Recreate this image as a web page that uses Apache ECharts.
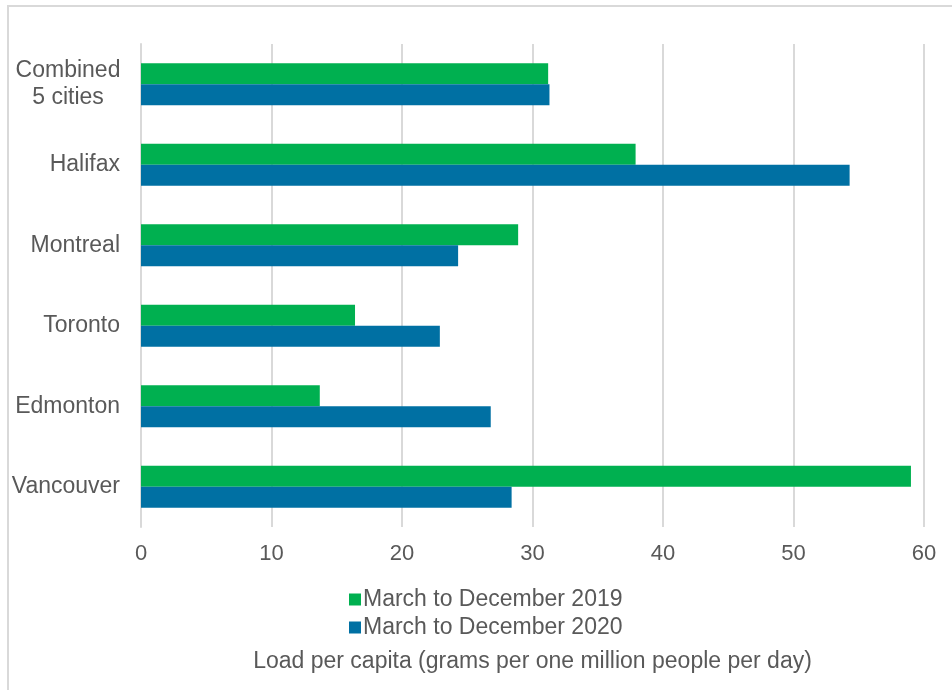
<!DOCTYPE html>
<html>
<head>
<meta charset="utf-8">
<script src="https://cdn.jsdelivr.net/npm/echarts@6/dist/echarts.min.js"></script>
<style>
  html, body { margin: 0; padding: 0; background: #fff; }
  #chart { width: 952px; height: 690px; }
</style>
</head>
<body>
<div id="chart"></div>
<script>
// categories, bottom to top (category axis starts at the bottom)
var cities = ['Vancouver', 'Edmonton', 'Toronto', 'Montreal', 'Halifax', 'Combined 5 cities'];
var load2019 = [59.0, 13.7, 16.4, 28.9, 37.9, 31.2];
var load2020 = [28.4, 26.8, 22.9, 24.3, 54.3, 31.3];
var seriesNames = ['March to December 2019', 'March to December 2020'];
var xTicks = [0, 60, 10]; // min, max, interval

var txt = '#595959';
var font = '"Liberation Sans", Arial, sans-serif';

var myChart = echarts.init(document.getElementById('chart'));
var option = {
    backgroundColor: '#fff',
    animation: false,
    textStyle: { fontFamily: font },
    graphic: [{
        type: 'rect',
        shape: { x: 8, y: 6, width: 980, height: 720 },
        style: { fill: 'none', stroke: '#d9d9d9', lineWidth: 2 },
        silent: true
    }],
    grid: { left: 141, right: 28, top: 44, bottom: 163 },
    legend: {
        data: seriesNames,
        orient: 'vertical',
        left: 344,
        top: 583,
        itemWidth: 12,
        itemHeight: 12,
        itemGap: 5,
        icon: 'rect',
        textStyle: { color: txt, fontSize: 23, fontFamily: font, padding: [0, 0, 0, -3] }
    },
    xAxis: {
        type: 'value',
        min: xTicks[0],
        max: xTicks[1],
        interval: xTicks[2],
        name: 'Load per capita (grams per one million people per day)',
        nameLocation: 'middle',
        nameGap: 123,
        nameTextStyle: { color: txt, fontSize: 23, fontFamily: font },
        axisLine: { show: false },
        axisTick: { show: false },
        axisLabel: { color: txt, fontSize: 22, margin: 16 },
        splitLine: { lineStyle: { color: '#d9d9d9', width: 2 } }
    },
    yAxis: {
        type: 'category',
        data: cities,
        axisLine: { show: true, lineStyle: { color: '#d9d9d9', width: 2 } },
        axisTick: { show: false },
        axisLabel: {
            color: txt,
            fontSize: 23,
            margin: 21,
            formatter: function (v) {
                if (v === 'Combined 5 cities') {
                    return '{c|Combined}\n{c|5 cities}';
                }
                return v;
            },
            rich: {
                c: { width: 104, align: 'center', fontSize: 23, color: txt, lineHeight: 27 }
            }
        }
    },
    series: [
        {
            name: seriesNames[0],
            type: 'bar',
            data: load2019,
            barWidth: 21,
            barGap: '0%',
            itemStyle: { color: '#00B050' }
        },
        {
            name: seriesNames[1],
            type: 'bar',
            data: load2020,
            barWidth: 21,
            barGap: '0%',
            itemStyle: { color: '#0070A3' }
        }
    ]
};
myChart.setOption(option);
</script>
</body>
</html>
